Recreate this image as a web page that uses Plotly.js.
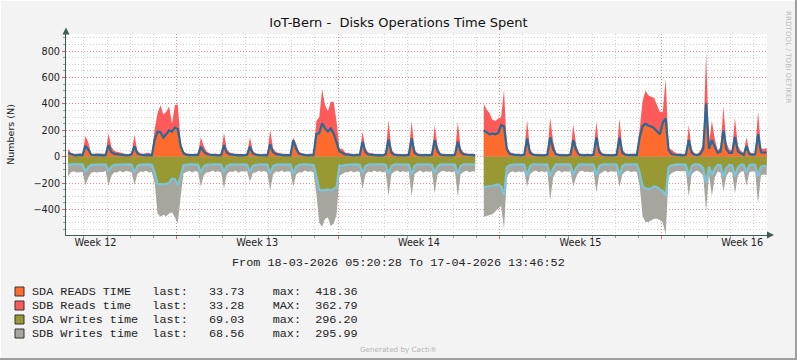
<!DOCTYPE html>
<html><head><meta charset="utf-8">
<script src="https://cdn.plot.ly/plotly-3.0.1.min.js"></script>
<style>html,body{margin:0;padding:0;background:#F3F3F3;}#chart{width:797px;height:360px;}</style>
</head><body><div id="chart"></div>
<script>
// ---- time axis ----
const rangeStart = '2026-03-18 05:20:28';
const rangeEnd = '2026-04-17 13:46:52';
const sampleStartUTC = [2026, 2, 18, 7, 30, 0]; // midpoint of first 3-hour bucket (06:00-09:00)
const stepHours = 3;

// ---- series (one row per day: buckets 00,03,06,09,12,15,18,21) ----
const sdaReads = [
  28,18,12,10,14,12,                 // Mar 18 (from 06:00)
  81,55,15,12,14,12,10,12,           // Mar 19
  88,35,22,18,15,12,10,11,           // Mar 20
  18,81,25,15,12,10,14,10,           // Mar 21
  130,190,185,145,170,200,190,220,   // Mar 22
  210,80,25,15,12,10,12,14,          // Mar 23
  76,40,20,15,12,12,10,12,           // Mar 24
  88,30,18,15,12,10,12,10,           // Mar 25
  15,76,25,15,12,10,12,10,           // Mar 26
  94,35,20,15,12,10,12,10,           // Mar 27
  125,60,22,15,12,10,12,12,          // Mar 28
  170,180,253,215,190,215,177,101,   // Mar 29
  40,30,18,15,12,10,12,12,           // Mar 30
  114,35,18,15,12,10,12,10,          // Mar 31
  18,131,30,15,12,10,12,10,          // Apr 1
  15,139,30,15,12,10,14,10,          // Apr 2
  15,126,40,15,12,10,12,10,          // Apr 3
  15,114,35,18,15,12,12,10,          // Apr 4
  null,null,200,182,170,175,170,180, // Apr 5
  240,230,60,20,15,12,12,10,         // Apr 6
  15,139,30,15,12,10,12,10,          // Apr 7
  15,147,60,18,12,10,12,10,          // Apr 8
  15,126,50,15,12,10,14,10,          // Apr 9
  15,147,35,15,12,10,12,10,          // Apr 10
  15,147,30,15,12,10,12,12,          // Apr 11
  150,230,250,235,230,215,190,170,   // Apr 12
  260,290,50,22,15,12,12,10,         // Apr 13
  15,126,30,15,12,20,60,405,         // Apr 14
  60,126,75,30,40,200,60,30,         // Apr 15
  30,150,40,25,15,81,20,15,          // Apr 16
  18,172,35,30,34                    // Apr 17
];
const sdbReads = [
  30,12,10,12,10,12,
  76,55,12,10,12,12,10,10,
  90,40,22,20,15,12,10,10,
  12,83,20,12,10,18,15,12,
  80,140,205,175,170,180,60,170,
  185,30,15,12,10,10,12,10,
  71,40,20,12,10,12,10,10,
  94,25,15,12,10,12,10,10,
  12,71,20,12,10,10,12,10,
  108,30,15,12,10,12,10,10,
  20,40,18,12,10,10,12,10,
  100,120,258,177,152,202,240,165,
  20,30,15,12,10,10,12,10,
  75,30,15,12,10,12,10,10,
  12,147,25,12,10,12,10,10,
  12,134,25,12,10,12,10,10,
  12,114,40,12,10,12,10,10,
  12,151,30,15,12,10,12,10,
  null,null,200,175,160,105,100,110,
  60,275,10,15,12,10,12,10,
  12,139,25,12,10,12,10,10,
  12,152,60,12,10,12,10,10,
  12,119,38,12,10,12,10,10,
  12,120,30,12,10,12,10,10,
  12,143,25,12,10,12,10,12,
  60,190,250,230,225,230,200,170,
  80,300,20,30,20,12,15,10,
  12,114,25,12,10,25,40,385,
  40,147,60,20,30,180,50,25,
  20,146,45,20,12,66,15,12,
  12,175,30,28,33
];
const sdaWrites = [
  62,58,55,57,60,58,
  115,80,62,60,58,60,58,57,
  112,75,62,60,58,57,58,58,
  60,120,70,60,58,57,58,60,
  120,205,210,210,205,200,165,170,
  215,150,65,60,58,57,58,60,
  120,75,62,58,57,58,58,60,
  118,70,60,58,57,60,58,57,
  60,115,68,60,58,57,58,60,
  126,72,60,58,57,58,60,58,
  130,75,62,58,57,58,60,62,
  150,250,255,250,250,255,245,230,
  65,70,62,60,58,57,58,60,
  125,72,60,58,57,58,60,58,
  60,130,70,58,57,58,60,58,
  60,135,70,58,57,58,60,58,
  60,126,72,58,57,58,60,58,
  60,131,70,58,57,58,60,58,
  null,null,230,228,225,220,215,210,
  225,290,80,65,60,58,60,58,
  60,145,72,58,57,58,60,58,
  60,150,90,58,57,58,60,58,
  60,140,85,58,57,58,60,58,
  60,140,72,58,57,58,60,58,
  60,145,72,58,57,58,60,58,
  120,225,240,245,240,225,230,250,
  260,296,80,65,62,58,60,58,
  60,150,72,58,57,65,85,200,
  75,140,90,62,65,150,85,62,
  65,150,80,62,60,120,62,60,
  62,150,75,70,69
];
const sdbWrites = [
  85,60,55,62,58,55,
  100,80,60,55,62,55,58,52,
  110,70,55,60,48,62,50,56,
  55,95,60,52,58,50,62,55,
  80,225,245,230,245,230,255,290,
  290,150,60,55,50,62,50,55,
  108,65,55,60,48,58,52,60,
  122,60,52,58,48,62,52,55,
  50,75,55,60,48,56,50,62,
  127,62,52,58,48,60,50,55,
  98,60,55,62,48,56,50,55,
  130,250,275,220,210,270,260,210,
  80,60,55,58,50,62,52,56,
  120,60,52,60,48,58,50,62,
  50,170,60,55,48,60,50,58,
  50,165,60,58,48,62,50,55,
  50,152,60,55,50,58,52,60,
  50,173,60,58,48,62,50,56,
  null,null,225,222,215,215,200,180,
  150,260,70,55,50,62,52,58,
  50,83,60,55,48,60,50,58,
  50,179,70,58,48,62,50,55,
  50,88,65,55,50,58,52,60,
  50,130,60,58,48,62,50,56,
  50,83,60,55,48,60,50,58,
  100,225,255,250,245,245,240,230,
  240,296,70,60,52,48,50,52,
  50,154,60,55,48,55,60,217,
  60,160,70,50,55,115,60,52,
  55,128,65,52,50,100,55,50,
  52,204,65,65,69
];

// ---- labels ----
const weekTickDates = ['2026-03-19 12:00','2026-03-26 12:00','2026-04-02 12:00','2026-04-09 12:00','2026-04-16 12:00'];
const weekTickLabels = ['Week 12','Week 13','Week 14','Week 15','Week 16'];
const legendNames = ['SDA READS TIME','SDB Reads time','SDA Writes time','SDB Writes time'];
const legendLast = ['33.73','33.28','69.03','68.56'];
const legendMaxLabel = ['max:','MAX:','max:','max:'];
const legendMax = ['418.36','362.79','296.20','295.99'];
const legendColors = ['#FF6B2D','#FF5A5A','#999933','#A6A69F'];

// ---- build ----
function fmt(d){const p=n=>String(n).padStart(2,'0');return d.getUTCFullYear()+'-'+p(d.getUTCMonth()+1)+'-'+p(d.getUTCDate())+' '+p(d.getUTCHours())+':'+p(d.getUTCMinutes())+':00';}
const t0 = Date.UTC.apply(null, sampleStartUTC);
const times = sdaReads.map((_, i) => fmt(new Date(t0 + i * stepHours * 3600000)));
const readsTotal = sdaReads.map((v, i) => v == null ? null : v + sdbReads[i]);
const sdaWritesNeg = sdaWrites.map(v => v == null ? null : -v);
const writesTotalNeg = sdaWrites.map((v, i) => v == null ? null : -(v + sdbWrites[i]));

const W = 797, H = 360, L = 66, R = 30, T = 34, B = 125;
const pw = W - L - R, ph = H - T - B;
const px = x => (x - L) / pw, py = y => (H - B - y) / ph;

// split a series into runs without missing data, so gaps stay empty
function runs(y){
  const out = []; let s = -1;
  for (let i = 0; i <= y.length; i++) {
    const ok = i < y.length && y[i] != null;
    if (ok && s < 0) s = i;
    if (!ok && s >= 0) { out.push([s, i]); s = -1; }
  }
  return out;
}
function area(y, color){
  return runs(y).map(([a, b]) => ({x: times.slice(a, b), y: y.slice(a, b), type: 'scatter', mode: 'lines',
    line: {shape: 'linear', width: 0, color: color}, fill: 'tozeroy', fillcolor: color,
    hoverinfo: 'skip', showlegend: false}));
}
function line(y, color){
  return runs(y).map(([a, b]) => ({x: times.slice(a, b), y: y.slice(a, b), type: 'scatter', mode: 'lines',
    line: {shape: 'linear', width: 2.2, color: color}, hoverinfo: 'skip', showlegend: false}));
}
const traces = [].concat(
  area(readsTotal, '#FF5A5A'),
  area(sdaReads, '#FF6B2D'),
  area(writesTotalNeg, '#A6A69F'),
  area(sdaWritesNeg, '#999933'),
  line(sdaReads, '#2C6896'),
  line(sdaWritesNeg, '#7BC4DA'),
  // carrier for the week-label axis (no visible marks)
  [{x: weekTickDates, y: weekTickDates.map(() => null), xaxis: 'x2', yaxis: 'y', type: 'scatter', mode: 'lines',
    hoverinfo: 'skip', showlegend: false}]
);

const axisColor = '#3E5E55';
const majorGrid = 'rgba(228,100,100,0.75)';
const minorGrid = '#D2D2D2';
const tickFont = {family: 'DejaVu Sans', size: 9.7, color: '#222'};
const monoFont = {family: 'Liberation Mono', size: 11.8, color: '#222'};

const shapes = [];
const annotations = [];
shapes.push({type: 'path', xref: 'paper', yref: 'paper', layer: 'above',
  path: `M ${px(66)},${py(27.5)} L ${px(62.5)},${py(34.5)} L ${px(69.5)},${py(34.5)} Z`,
  fillcolor: axisColor, line: {width: 0}});
shapes.push({type: 'path', xref: 'paper', yref: 'paper', layer: 'above',
  path: `M ${px(774)},${py(235)} L ${px(767)},${py(231.5)} L ${px(767)},${py(238.5)} Z`,
  fillcolor: axisColor, line: {width: 0}});
shapes.push({type: 'line', xref: 'paper', yref: 'paper', x0: px(796), x1: px(796), y0: py(0), y1: py(360), line: {color: '#9E9E9E', width: 2}});
shapes.push({type: 'line', xref: 'paper', yref: 'paper', x0: px(0), x1: px(797), y0: py(359), y1: py(359), line: {color: '#9E9E9E', width: 2}});
shapes.push({type: 'line', xref: 'paper', yref: 'paper', x0: px(0.5), x1: px(0.5), y0: py(0), y1: py(358), line: {color: '#FFFFFF', width: 1}});
shapes.push({type: 'line', xref: 'paper', yref: 'paper', x0: px(0), x1: px(795), y0: py(0.5), y1: py(0.5), line: {color: '#FFFFFF', width: 1}});

const rowY = [291.5, 305.5, 319.5, 333.5];
legendNames.forEach((name, k) => {
  const sq = 4.5;
  shapes.push({type: 'rect', xref: 'paper', yref: 'paper', x0: px(19.5 - sq), x1: px(19.5 + sq),
    y0: py(rowY[k] - sq), y1: py(rowY[k] + sq), fillcolor: legendColors[k], line: {color: '#333', width: 1}});
  const txt = name.padEnd(17) + 'last:'.padEnd(8) + legendLast[k].padEnd(9) + legendMaxLabel[k].padEnd(6) + legendMax[k];
  annotations.push({xref: 'paper', yref: 'paper', x: px(30), y: py(rowY[k]), xanchor: 'left', yanchor: 'middle',
    text: txt.replace(/ /g, '\u00A0'), showarrow: false, font: monoFont});
});
annotations.push({xref: 'paper', yref: 'paper', x: px(398), y: py(263), xanchor: 'center', yanchor: 'middle',
  text: ('From ' + '18-03-2026 05:20:28' + ' To ' + '17-04-2026 13:46:52').replace(/ /g, '\u00A0'),
  showarrow: false, font: monoFont});
annotations.push({xref: 'paper', yref: 'paper', x: px(398), y: py(349), xanchor: 'center', yanchor: 'middle',
  text: 'Generated by Cacti®', showarrow: false, font: {family: 'DejaVu Sans', size: 7.2, color: '#B4B4B4'}});
annotations.push({xref: 'paper', yref: 'paper', x: px(789), y: py(57), xanchor: 'center', yanchor: 'middle',
  text: 'RRDTOOL / TOBI OETIKER', textangle: 90, showarrow: false, font: {family: 'DejaVu Sans', size: 7.2, color: '#BDBDBD'}});

const layout = {
  width: W, height: H,
  margin: {l: L, r: R, t: T, b: B, pad: 0},
  paper_bgcolor: '#F3F3F3', plot_bgcolor: '#FFFFFF',
  showlegend: false,
  title: {text: 'IoT-Bern -\u00A0 Disks Operations Time Spent', font: {family: 'DejaVu Sans', size: 13, color: '#111'},
          x: 0.5, xanchor: 'center', xref: 'container', y: 1 - 22 / H, yanchor: 'middle', yref: 'container'},
  xaxis: {type: 'date', range: [rangeStart, rangeEnd], tickmode: 'linear', tick0: '2026-03-23', dtick: 7 * 86400000,
          showticklabels: false, showgrid: true, gridcolor: majorGrid, griddash: '1px,2px', gridwidth: 1,
          ticks: 'outside', ticklen: 3, tickcolor: '#E06060', showline: true, linecolor: axisColor, linewidth: 1,
          zeroline: false, automargin: false, fixedrange: true,
          minor: {tickmode: 'linear', tick0: '2026-03-19', dtick: 86400000, showgrid: true, gridcolor: minorGrid,
                  griddash: '1px,2px', gridwidth: 1, ticks: 'outside', ticklen: 2, tickcolor: '#999'}},
  xaxis2: {type: 'date', overlaying: 'x', anchor: 'y', side: 'bottom', range: [rangeStart, rangeEnd],
           tickmode: 'array', tickvals: weekTickDates, ticktext: weekTickLabels, showgrid: false, zeroline: false,
           showline: false, ticks: '', tickfont: tickFont, automargin: false, fixedrange: true},
  yaxis: {range: [-593, 930], tickmode: 'linear', tick0: 0, dtick: 200, showgrid: true, gridcolor: majorGrid,
          griddash: '1px,2px', gridwidth: 1, zeroline: false, showline: true, linecolor: axisColor, linewidth: 1,
          ticks: 'outside', ticklen: 3, tickcolor: '#E06060', tickfont: tickFont, automargin: false, fixedrange: true,
          title: {text: 'Numbers (N)', font: {family: 'DejaVu Sans', size: 9.5, color: '#222'}, standoff: 17},
          minor: {tickmode: 'linear', tick0: 0, dtick: 50, showgrid: true, gridcolor: minorGrid, griddash: '1px,2px',
                  gridwidth: 1, ticks: 'outside', ticklen: 2, tickcolor: '#999'}},
  shapes: shapes,
  annotations: annotations
};
Plotly.newPlot('chart', traces, layout, {staticPlot: true, displayModeBar: false});
</script></body></html>
